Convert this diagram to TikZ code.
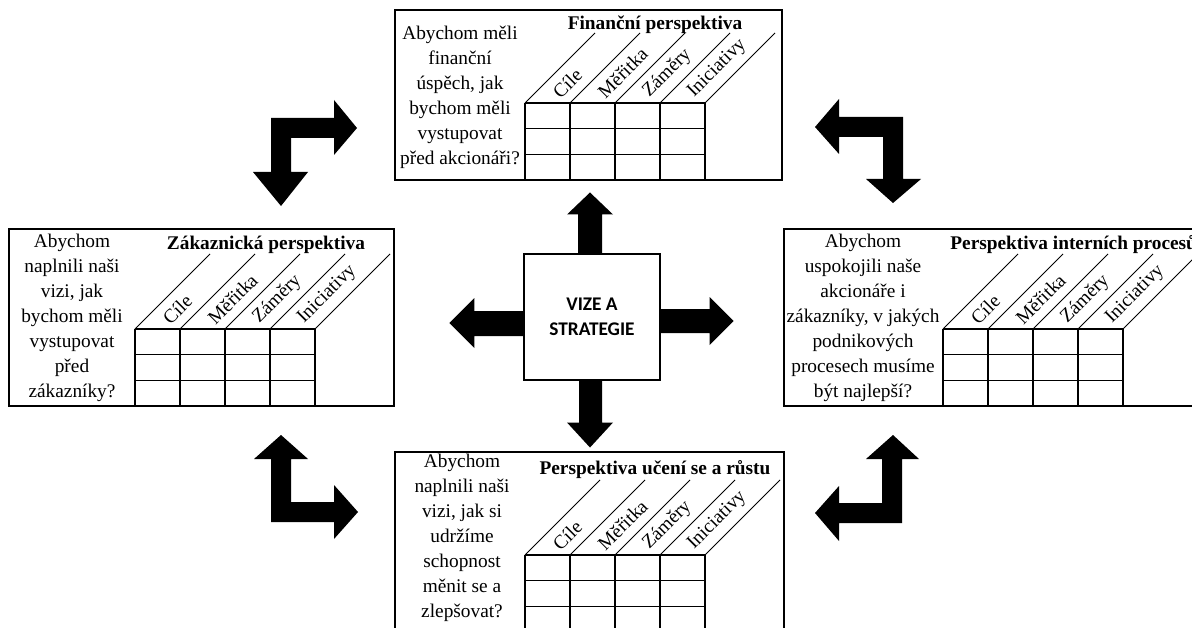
\documentclass[tikz,border=0pt]{standalone}
\usepackage{fontspec}
\setmainfont{Liberation Serif}
\newfontfamily\carlito{Carlito}
\usetikzlibrary{positioning, fit, calc}

\begin{document}
\begin{tikzpicture}[
  x=0.02cm, y=-0.02cm,
  pbox/.style={draw, line width=0.8pt, inner sep=0pt},
  cell/.style={line width=0.7pt},
  diag/.style={line width=0.45pt},
  qtext/.style={align=center, font=\fontsize{11}{14.2}\selectfont, inner sep=0pt},
  ptitle/.style={font=\fontsize{11}{13}\selectfont\bfseries, inner sep=0pt},
  colhead/.style={font=\fontsize{11}{13}\selectfont, rotate=45, anchor=west, inner sep=1pt},
  vizebox/.style={draw, line width=0.6pt, minimum width=2.72cm, minimum height=2.52cm, align=center, font=\carlito\bfseries\fontsize{11}{14.2}\selectfont},
  bigarrow/.style={fill=black, draw=none},
  pics/perspgrid/.style 2 args={code={
    % four columns, three rows, slanted column heads
    \foreach \i in {0,...,4} {
      \draw[cell] (45*\i,0) -- (45*\i,3*#2);
      \draw[diag] (45*\i,0) -- ++(#1,-#1);
    }
    \foreach \j in {0,1,2}
      \draw[cell] (0,#2*\j) -- (180,#2*\j);
    \foreach \lbl [count=\i from 0] in {Cíle,Měřitka,Záměry,Iniciativy}
      \node[colhead] (-h\i) at (45*\i+29.5,-7) {\lbl};
  }}
]
  \useasboundingbox (0,0) rectangle (1192,628);
  \clip (0,0) rectangle (1192,628);

  % centre and its four arrows
  \node[vizebox] (vize) at (592,317) {VIZE A\\STRATEGIE};
  \draw[bigarrow] (vize.north) ++(-14,0) -- ++(0,-39) -- ++(-11,0) -- ++(23,-22) -- ++(23,22) -- ++(-11,0) -- ++(0,39) -- cycle;
  \draw[bigarrow] (vize.south) ++(-13,0) -- ++(0,42) -- ++(-12,0) -- ++(23,25) -- ++(23,-25) -- ++(-11,0) -- ++(0,-42) -- cycle;
  \draw[bigarrow] (vize.west) ++(0,-6) -- ++(-49,0) -- ++(0,-13) -- ++(-25,25) -- ++(25,25) -- ++(0,-12) -- ++(49,0) -- cycle;
  \draw[bigarrow] (vize.east) ++(0,-8) -- ++(49,0) -- ++(0,-12) -- ++(24,24) -- ++(-24,24) -- ++(0,-12) -- ++(-49,0) -- cycle;

  % financial
  \node[pbox, fit={(395,10) (782,180)}] (fin) {};
  \node[ptitle] (fin-t) at (655,25) {Finanční perspektiva};
  \node[qtext] (fin-q) at (460,97) {Abychom měli\\finanční\\úspěch, jak\\bychom měli\\vystupovat\\před akcionáři?};
  \pic (fin) at (525,103) {perspgrid={70}{25.67}};

  % customer
  \node[pbox, fit={(9,229) (394,406)}] (zak) {};
  \node[ptitle] (zak-t) at (266,245) {Zákaznická perspektiva};
  \node[qtext] (zak-q) at (72,318) {Abychom\\naplnili naši\\vizi, jak\\bychom měli\\vystupovat\\před\\zákazníky?};
  \pic (zak) at (135,329) {perspgrid={75}{25.67}};

  % internal processes
  \node[pbox, fit={(784,229) (1215,406)}] (proc) {};
  \node[ptitle, anchor=west] (proc-t) at (950,245) {Perspektiva interních procesů};
  \node[qtext] (proc-q) at (863,318) {Abychom\\uspokojili naše\\akcionáře i\\zákazníky, v jakých\\podnikových\\procesech musíme\\být najlepší?};
  \pic (proc) at (943,329) {perspgrid={75}{25.67}};

  % learning and growth
  \node[pbox, fit={(395,452) (784,632)}] (uceni) {};
  \node[ptitle] (uceni-t) at (655,470) {Perspektiva učení se a růstu};
  \node[qtext] (uceni-q) at (462,538) {Abychom\\naplnili naši\\vizi, jak si\\udržíme\\schopnost\\měnit se a\\zlepšovat?};
  \pic (uceni) at (525,555) {perspgrid={75}{25.67}};

  % corner arrows
  \fill (271,118) -- (334,118) -- (334,100) -- (357,128) -- (334,155) -- (334,138) -- (291,138) -- (291,172) -- (308,172) -- (281,206) -- (253,172) -- (271,172) -- cycle;
  \fill (903,117) -- (903,179) -- (921,179) -- (893,203) -- (866,179) -- (883,179) -- (883,137) -- (839,137) -- (839,154) -- (815,127) -- (839,99) -- (839,117) -- cycle;
  \fill (271,522) -- (271,459) -- (254,459) -- (281,435) -- (308,459) -- (291,459) -- (291,502) -- (334,502) -- (334,485) -- (358,512) -- (334,539) -- (334,522) -- cycle;
  \fill (902,523) -- (902,459) -- (919,459) -- (893,435) -- (866,459) -- (882,459) -- (882,503) -- (839,503) -- (839,486) -- (815,513) -- (839,541) -- (839,523) -- cycle;
\end{tikzpicture}
\end{document}
